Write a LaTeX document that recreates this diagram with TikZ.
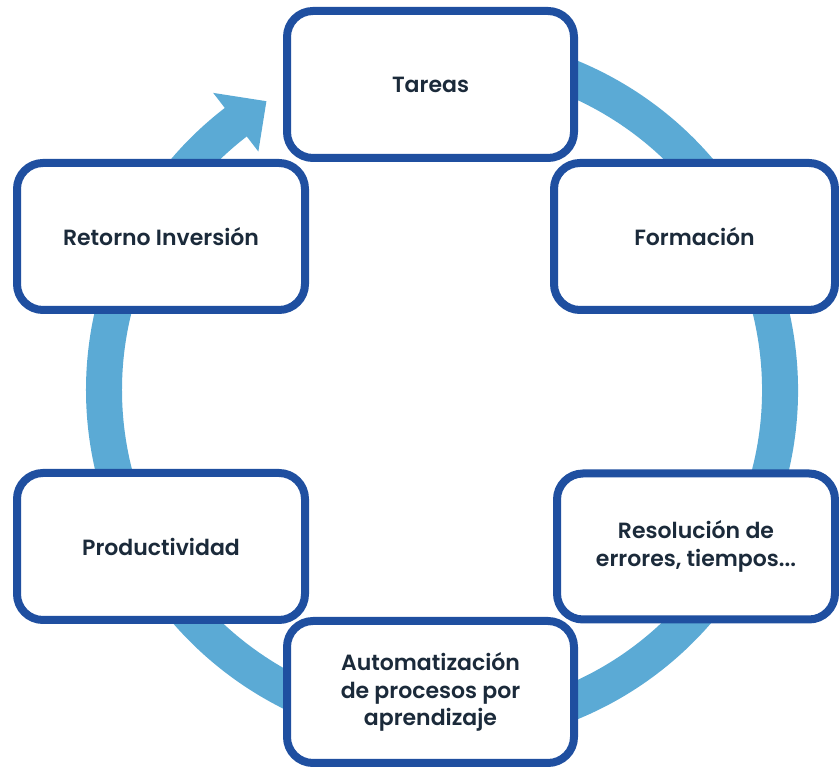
\documentclass[tikz,border=0pt]{standalone}
\usepackage{fontspec}
\setmainfont{Poppins}[UprightFont={* SemiBold}]
\definecolor{ringblue}{HTML}{5BAAD5}
\definecolor{boxblue}{HTML}{1F4FA0}
\definecolor{txtcol}{HTML}{1B2A3A}
\begin{document}
\begin{tikzpicture}[x=1pt,y=1pt,
  stage/.style={draw=boxblue, line width=8pt, fill=white, rounded corners=26pt,
    align=center, text=txtcol, font=\fontsize{22}{27.5}\selectfont, inner sep=0pt},
  cyclering/.style={draw=ringblue, line width=36pt},
  ringhead/.style={fill=ringblue}]
\useasboundingbox (0,0) rectangle (839,771);
\coordinate (C) at (442,381);
% ring with arrow
\draw[cyclering] ([shift={(100:338)}]C) arc[start angle=100, end angle=-233.5, radius=338];
\fill[ringhead] ([shift={(121.3:338)}]C) -- ([shift={(127.6:375)}]C) -- ([shift={(127.6:301)}]C) -- cycle;
% boxes
\node[stage, minimum width=287pt, minimum height=147pt] (tareas) at (430.5,686.5) {Tareas};
\node[stage, minimum width=281pt, minimum height=147pt] (formacion) at (694.5,534.5) {Formación};
\node[stage, minimum width=288pt, minimum height=147pt] (retorno) at (161,534.5) {Retorno Inversión};
\node[stage, minimum width=288pt, minimum height=147pt] (productividad) at (161,224.5) {Productividad};
\node[stage, minimum width=278pt, minimum height=146pt] (resolucion) at (696,224.5) {Resolución de\\errores, tiempos...};
\node[stage, minimum width=287pt, minimum height=142pt] (automatizacion) at (430.5,79) {Automatización\\de procesos por\\aprendizaje};
\end{tikzpicture}
\end{document}
